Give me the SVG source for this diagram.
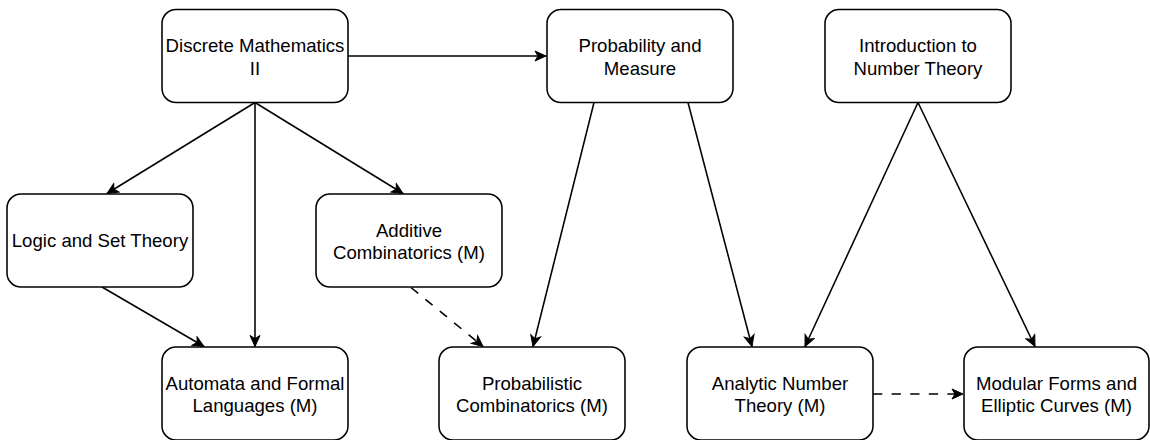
<svg xmlns="http://www.w3.org/2000/svg" width="1150" height="440" viewBox="0 0 1150 440">
  <style>
    .box { fill: #ffffff; stroke: #000000; stroke-width: 1.55; }
    .label { font-family: "Liberation Sans", Arial, Helvetica, sans-serif; font-size: 18.6px; fill: #000000; text-anchor: middle; }
    .edge { fill: none; stroke: #000000; stroke-width: 1.55; marker-end: url(#arrow); }
    .dashed { stroke-dasharray: 9.3 9.3; }
  </style>
  <defs>
    <marker id="arrow" markerUnits="userSpaceOnUse" viewBox="-12 -6 13 12" refX="0" refY="0" markerWidth="13" markerHeight="12" orient="auto">
      <path d="M0,0 L-11,-5 L-8,0 L-11,5 Z" fill="#000000" stroke="#000000" stroke-width="1" stroke-linejoin="miter"/>
    </marker>
  </defs>
  <rect width="1150" height="440" fill="#ffffff"/>

  <g id="connectors">
    <path class="edge" d="M348,56 L546,56"/>
    <path class="edge" d="M255,102.5 L107,193.5"/>
    <path class="edge" d="M255,102.5 L255,346.5"/>
    <path class="edge" d="M255,102.5 L403,193.5"/>
    <path class="edge" d="M102,287 L204,346.5"/>
    <path class="edge dashed" d="M411,287.5 L483,346.5"/>
    <path class="edge" d="M594,102.5 L533,346.5"/>
    <path class="edge" d="M688,102.5 L752,346.5"/>
    <path class="edge" d="M918,102.5 L805,346.5"/>
    <path class="edge" d="M918,102.5 L1035,346.5"/>
    <path class="edge dashed" d="M873,394 L963,394"/>
  </g>

  <g id="discrete-mathematics-ii">
    <rect class="box" x="162" y="9.5" width="186" height="93" rx="14" ry="14"/>
    <text class="label" x="255" y="52.4">Discrete Mathematics</text>
    <text class="label" x="255" y="74.7">II</text>
  </g>

  <g id="probability-and-measure">
    <rect class="box" x="547" y="9.5" width="186" height="93" rx="14" ry="14"/>
    <text class="label" x="640" y="52.4">Probability and</text>
    <text class="label" x="640" y="74.7">Measure</text>
  </g>

  <g id="introduction-to-number-theory">
    <rect class="box" x="825" y="9.5" width="186" height="93" rx="14" ry="14"/>
    <text class="label" x="918" y="52.4">Introduction to</text>
    <text class="label" x="918" y="74.7">Number Theory</text>
  </g>

  <g id="logic-and-set-theory">
    <rect class="box" x="7" y="194" width="186" height="93" rx="14" ry="14"/>
    <text class="label" x="100" y="247.3">Logic and Set Theory</text>
  </g>

  <g id="additive-combinatorics">
    <rect class="box" x="316" y="194" width="186" height="93" rx="14" ry="14"/>
    <text class="label" x="409" y="236.9">Additive</text>
    <text class="label" x="409" y="259.2">Combinatorics (M)</text>
  </g>

  <g id="automata-and-formal-languages">
    <rect class="box" x="162" y="347" width="186" height="93" rx="14" ry="14"/>
    <text class="label" x="255" y="389.9">Automata and Formal</text>
    <text class="label" x="255" y="412.2">Languages (M)</text>
  </g>

  <g id="probabilistic-combinatorics">
    <rect class="box" x="439" y="347" width="186" height="93" rx="14" ry="14"/>
    <text class="label" x="532" y="389.9">Probabilistic</text>
    <text class="label" x="532" y="412.2">Combinatorics (M)</text>
  </g>

  <g id="analytic-number-theory">
    <rect class="box" x="687" y="347" width="186" height="93" rx="14" ry="14"/>
    <text class="label" x="780" y="389.9">Analytic Number</text>
    <text class="label" x="780" y="412.2">Theory (M)</text>
  </g>

  <g id="modular-forms-and-elliptic-curves">
    <rect class="box" x="964" y="347" width="185" height="93" rx="14" ry="14"/>
    <text class="label" x="1056.5" y="389.9">Modular Forms and</text>
    <text class="label" x="1056.5" y="412.2">Elliptic Curves (M)</text>
  </g>
</svg>
